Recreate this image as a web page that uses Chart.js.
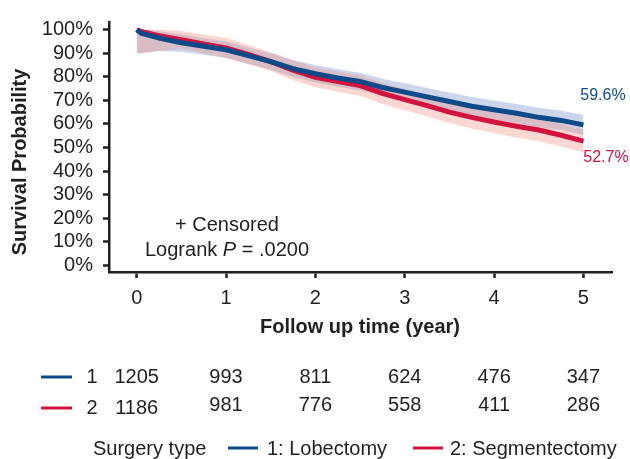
<!DOCTYPE html>
<html>
<head>
<meta charset="utf-8">
<script src="https://cdn.jsdelivr.net/npm/chart.js@4.4.1/dist/chart.umd.min.js"></script>
<style>
  html, body { margin: 0; padding: 0; background: #fff; }
  #wrap { width: 630px; height: 459px; }
</style>
</head>
<body>
<div id="wrap"><canvas id="km" width="630" height="459"></canvas></div>
<script>
// follow-up time (years) at which survival was read
const years = [0, 0.05, 0.25, 0.5, 0.75, 1, 1.25, 1.5, 1.75, 2, 2.25, 2.5, 2.75, 3, 3.25, 3.5, 3.75, 4, 4.25, 4.5, 4.75, 5];

// 1: Lobectomy
const lobectomy      = [100, 98.5, 96.5, 94.5, 93, 91.5, 89, 86.5, 83.5, 81.3, 79.5, 78, 75.5, 73.5, 71.5, 69.5, 67.5, 66, 64.5, 62.8, 61.5, 59.6];
const lobectomyUpper = [100, 100, 99.5, 98, 96.5, 95, 92.5, 90, 87, 85, 83.2, 81.7, 79.2, 77.3, 75.3, 73.4, 71.4, 70, 68.5, 66.9, 65.6, 63.9];
const lobectomyLower = [90, 90, 91, 90.7, 89.4, 88, 85.5, 83, 80, 77.6, 75.8, 74.3, 71.8, 69.7, 67.7, 65.6, 63.6, 62, 60.5, 58.7, 57.4, 55.3];

// 2: Segmentectomy
const segmentectomy      = [100, 99.3, 97.5, 95.8, 94, 92.3, 89.5, 86.5, 82.8, 79.8, 78, 76.3, 73, 70.3, 67.8, 65, 62.8, 60.8, 59, 57.4, 55.2, 52.7];
const segmentectomyUpper = [100, 100, 100, 99.5, 98, 96.5, 93.5, 90.5, 87, 84, 82.3, 80.7, 77.5, 74.8, 72.3, 69.7, 67.5, 65.5, 63.8, 62.2, 60, 57.5];
const segmentectomyLower = [90, 90, 91, 92, 90, 88, 85.5, 82.5, 78.6, 75.6, 73.7, 72, 68.5, 65.8, 63.3, 60.4, 58.1, 56.1, 54.2, 52.6, 50.4, 48];

// numbers at risk
const atRiskLobectomy = [1205, 993, 811, 624, 476, 347];
const atRiskSegmentectomy = [1186, 981, 776, 558, 411, 286];

const xTicks = [0, 1, 2, 3, 4, 5];
const yTicks = [0, 10, 20, 30, 40, 50, 60, 70, 80, 90, 100];

const BLUE = "#0e4a88";
const RED = "#d2123f";
const INK = "#231f20";
const FONT = "'Liberation Sans', Arial, Helvetica, sans-serif";

const toPoints = (ys) => years.map((t, i) => ({ x: t, y: ys[i] }));

const curve = (label, ys, color) => ({
  label,
  data: toPoints(ys),
  borderColor: color,
  borderWidth: 5,
  pointRadius: 0,
  tension: 0,
  fill: false,
  order: 0,
});

const band = (ys, fill, bg, order) => ({
  data: toPoints(ys),
  borderWidth: 0,
  borderColor: "transparent",
  pointRadius: 0,
  tension: 0,
  fill: fill,
  backgroundColor: bg,
  order: order,
});

// risk table, legend and notes drawn under the plot
const extraText = {
  id: "extraText",
  afterDraw(chart) {
    const { ctx } = chart;
    const x = chart.scales.x;
    ctx.save();
    ctx.fillStyle = INK;
    ctx.textBaseline = "middle";

    // axis titles
    ctx.font = "bold 20px " + FONT;
    ctx.textAlign = "center";
    ctx.fillText("Follow up time (year)", 360, 327);
    ctx.save();
    ctx.translate(20, 162);
    ctx.rotate(-Math.PI / 2);
    ctx.fillText("Survival Probability", 0, 0);
    ctx.restore();

    // censored / logrank note
    ctx.font = "20px " + FONT;
    ctx.fillText("+ Censored", 227, 225);
    const a = "Logrank ", p = "P", b = " = .0200";
    const wa = ctx.measureText(a).width;
    const wb = ctx.measureText(b).width;
    ctx.font = "italic 20px " + FONT;
    const wp = ctx.measureText(p).width;
    const sx = 227 - (wa + wp + wb) / 2;
    ctx.textAlign = "left";
    ctx.font = "20px " + FONT;
    ctx.fillText(a, sx, 250);
    ctx.font = "italic 20px " + FONT;
    ctx.fillText(p, sx + wa, 250);
    ctx.font = "20px " + FONT;
    ctx.fillText(b, sx + wa + wp, 250);

    // end labels
    ctx.font = "16px " + FONT;
    ctx.textAlign = "center";
    ctx.fillStyle = BLUE;
    ctx.fillText(lobectomy[lobectomy.length - 1].toFixed(1) + "%", 603, 96);
    ctx.fillStyle = RED;
    ctx.fillText(segmentectomy[segmentectomy.length - 1].toFixed(1) + "%", 606, 158);

    // numbers at risk
    ctx.lineWidth = 3;
    ctx.strokeStyle = BLUE;
    ctx.beginPath(); ctx.moveTo(41, 377); ctx.lineTo(72, 377); ctx.stroke();
    ctx.strokeStyle = RED;
    ctx.beginPath(); ctx.moveTo(41, 408); ctx.lineTo(72, 408); ctx.stroke();
    ctx.fillStyle = INK;
    ctx.font = "20px " + FONT;
    ctx.fillText("1", 92, 377);
    ctx.fillText("2", 92, 408);
    xTicks.forEach((t, i) => {
      const px = x.getPixelForValue(t);
      ctx.fillText(String(atRiskLobectomy[i]), px, 377);
      ctx.fillText(String(atRiskSegmentectomy[i]), px, i === 0 ? 408 : 405);
    });

    // legend
    ctx.textAlign = "left";
    ctx.fillText("Surgery type", 93, 449);
    ctx.strokeStyle = BLUE;
    ctx.beginPath(); ctx.moveTo(228, 448); ctx.lineTo(258, 448); ctx.stroke();
    ctx.fillText("1: Lobectomy", 267, 449);
    ctx.strokeStyle = RED;
    ctx.beginPath(); ctx.moveTo(413, 448); ctx.lineTo(443, 448); ctx.stroke();
    ctx.fillText("2: Segmentectomy", 450, 449);
    ctx.restore();
  },
};

const ctx = document.getElementById("km").getContext("2d");
new Chart(ctx, {
  type: "line",
  data: {
    datasets: [
      curve("1: Lobectomy", lobectomy, BLUE),
      curve("2: Segmentectomy", segmentectomy, RED),
      band(lobectomyUpper, false, "transparent", 2),
      band(lobectomyLower, "-1", "rgba(120, 145, 200, 0.38)", 2),
      band(segmentectomyUpper, false, "transparent", 1),
      band(segmentectomyLower, "-1", "rgba(240, 150, 140, 0.38)", 1),
    ],
  },
  options: {
    responsive: false,
    animation: false,
    layout: { padding: { left: 0, top: 15, right: 18, bottom: 0 } },
    plugins: {
      legend: { display: false },
      tooltip: { enabled: false },
    },
    scales: {
      x: {
        type: "linear",
        min: -0.31,
        max: 5.32,
        afterBuildTicks: (scale) => { scale.ticks = xTicks.map((v) => ({ value: v })); },
        afterFit: (scale) => { scale.height = 187; },
        grid: { drawOnChartArea: false, drawTicks: true, tickLength: 6, tickWidth: 2.5, tickColor: INK },
        border: { display: true, color: INK, width: 2.5 },
        ticks: { color: INK, font: { family: FONT, size: 20 }, padding: 8, maxRotation: 0, autoSkip: false },
      },
      y: {
        type: "linear",
        min: -2.9,
        max: 103.3,
        afterBuildTicks: (scale) => { scale.ticks = yTicks.map((v) => ({ value: v })); },
        afterFit: (scale) => { scale.width = 109; },
        grid: { drawOnChartArea: false, drawTicks: true, tickLength: 6, tickWidth: 2.5, tickColor: INK },
        border: { display: true, color: INK, width: 2.5 },
        ticks: {
          color: INK,
          font: { family: FONT, size: 20 },
          padding: 10,
          autoSkip: false,
          callback: (v) => v + "%",
        },
      },
    },
  },
  plugins: [extraText],
});
</script>
</body>
</html>
